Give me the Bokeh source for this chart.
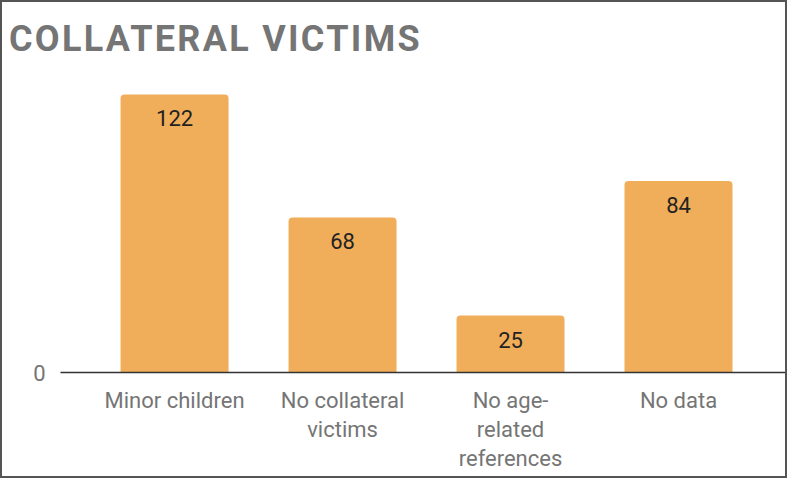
from bokeh.plotting import figure
from bokeh.layouts import column
from bokeh.models import ColumnDataSource, FixedTicker, Range1d, Div
from bokeh.embed import file_html
from bokeh.resources import INLINE
from bokeh.core.properties import value

categories = ["Minor children", "No collateral\nvictims", "No age-\nrelated\nreferences", "No data"]
counts = [122, 68, 25, 84]
y_ticks = [0]
title_text = "COLLATERAL VICTIMS"

positions = list(range(len(categories)))
src = ColumnDataSource(dict(x=positions, y=counts, label=[str(c) for c in counts]))

title = Div(text=title_text, width=783, height=70,
            styles={"font-family": "Roboto", "font-size": "36px", "font-weight": "bold",
                    "color": "#757575", "line-height": "36px", "padding-top": "19px",
                    "padding-left": "7px", "letter-spacing": "2.3px",
                    "box-sizing": "border-box", "margin": "0px"})

p = figure(width=783, height=404, output_backend="svg", toolbar_location=None,
           x_range=Range1d(-0.679, 3.637), y_range=Range1d(0, 128.1),
           min_border_left=58, min_border_right=0, min_border_bottom=104, min_border_top=8)

p.vbar(x="x", top="y", width=0.643, source=src, fill_color="#F1AE5A", line_color=None,
       border_radius=(4, 4, 0, 0))
p.text(x="x", y="y", text="label", source=src, text_align="center", text_baseline="top",
       y_offset=16, text_font=value("Roboto"), text_font_size="22px", text_color="#222222")

p.xaxis.ticker = FixedTicker(ticks=positions)
p.xaxis.major_label_overrides = {i: c for i, c in zip(positions, categories)}
p.xaxis.major_label_text_font = "Roboto"
p.xaxis.major_label_text_font_size = "22px"
p.xaxis.major_label_text_color = "#757575"
p.xaxis.major_label_text_line_height = 1.17
p.xaxis.major_label_standoff = 9
p.xaxis.axis_line_color = "#333333"
p.xaxis.axis_line_width = 1.5
p.xaxis.major_tick_line_color = None
p.xaxis.minor_tick_line_color = None

p.yaxis.ticker = FixedTicker(ticks=y_ticks)
p.yaxis.axis_line_color = None
p.yaxis.major_tick_line_color = None
p.yaxis.minor_tick_line_color = None
p.yaxis.major_label_text_font = "Roboto"
p.yaxis.major_label_text_font_size = "22px"
p.yaxis.major_label_text_color = "#757575"
p.yaxis.major_label_standoff = 9

p.xgrid.grid_line_color = None
p.ygrid.grid_line_color = None
p.outline_line_color = None

layout = column(title, p, spacing=0, styles={"border": "2px solid #555555"})

open("out.html", "w").write(file_html(layout, INLINE))
